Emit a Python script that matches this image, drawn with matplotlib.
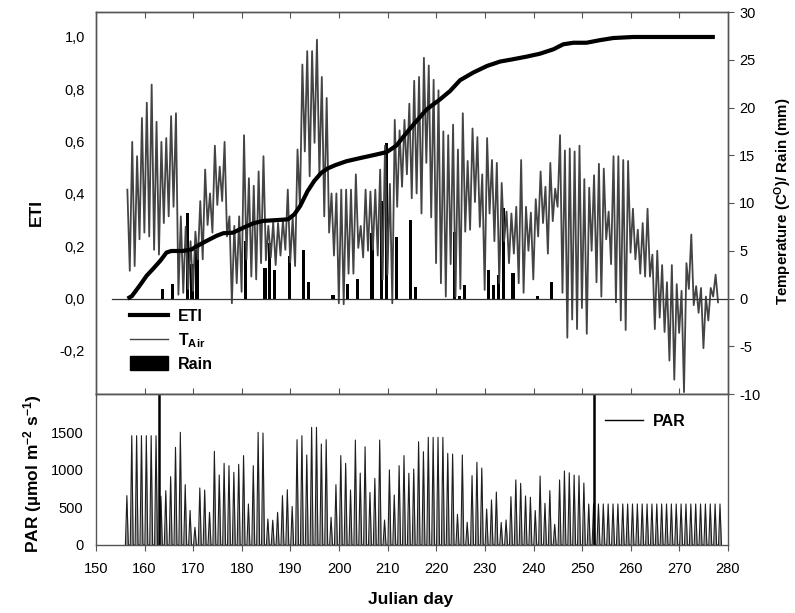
import numpy as np
import matplotlib
matplotlib.use('Agg')
import matplotlib.pyplot as plt
from matplotlib.lines import Line2D
from matplotlib.patches import Patch
from matplotlib.ticker import FuncFormatter, FixedLocator

plt.rcParams['font.family'] = ['Liberation Sans', 'DejaVu Sans']
plt.rcParams['mathtext.fontset'] = 'custom'
plt.rcParams['mathtext.rm'] = 'Liberation Sans:bold'
plt.rcParams['mathtext.it'] = 'Liberation Sans:bold'
plt.rcParams['mathtext.bf'] = 'Liberation Sans:bold'
plt.rcParams['mathtext.default'] = 'rm'
plt.rcParams['axes.unicode_minus'] = False

# ---------------- data ----------------
# Air temperature: daily maximum and following minimum (deg C), days 156..277
t_days = np.arange(156, 278)
t_max = [11.4, 16.4, 14.9, 18.9, 20.5, 22.4, 18.5, 16.4, 16.8, 19.1,
         19.4, 8.6, 7.5, 6.0, 7.0, 10.2, 13.5, 11.0, 16.0, 13.8,
         16.4, 8.6, 7.6, 8.6, 17.1, 12.6, 11.8, 13.3, 14.9, 7.6,
         8.0, 7.9, 8.2, 11.4, 8.5, 15.6, 24.5, 25.9, 25.9, 27.1,
         23.2, 21.0, 11.0, 11.0, 11.4, 11.4, 11.4, 13.0, 7.6, 11.4,
         11.2, 11.4, 13.5, 16.0, 12.0, 18.7, 17.6, 18.7, 20.4, 22.8,
         23.2, 25.2, 24.4, 22.9, 21.8, 17.5, 17.1, 18.2, 15.6, 19.4,
         14.4, 17.8, 16.9, 13.0, 16.8, 14.5, 14.2, 12.1, 9.1, 8.9,
         9.6, 14.5, 9.6, 9.0, 10.4, 13.3, 11.7, 14.2, 11.5, 17.1,
         15.5, 15.7, 15.4, 16.0, 12.5, 11.6, 12.9, 14.1, 13.6, 9.1,
         14.9, 14.9, 14.5, 14.4, 9.4, 7.2, 7.9, 9.4, 4.6, 5.0,
         3.5, 1.7, 3.5, 1.5, 0.8, 3.7, 6.7, 1.3, 1.1, 0.2,
         1.1, 2.5]
t_min = [2.9, 3.4, 6.2, 6.9, 6.5, 5.1, 4.6, 7.9, 8.6, 9.6,
         0.4, 0.6, 1.0, 0.8, 4.1, 4.1, 7.7, 6.9, 9.8, 10.2,
         6.5, -0.5, 1.6, 0.7, 4.1, 2.3, 2.0, 3.7, 4.0, 4.3,
         3.5, 4.5, 5.1, 3.8, 3.4, 9.6, 15.4, 12.8, 16.3, 12.8,
         8.6, 6.9, 4.5, -0.5, -0.6, 2.6, 2.6, 5.3, 4.3, 5.0,
         5.1, 4.5, 2.0, 2.5, -0.5, 9.6, 11.7, 13.0, 10.5, 11.0,
         8.9, 14.2, 8.5, 3.7, 1.6, 0.2, 3.6, 0.2, 1.0, 7.0,
         7.2, 10.1, 7.5, 0.9, 8.9, 6.0, 1.6, 6.0, 3.7, 4.7,
         1.6, 0.6, 5.0, 2.0, 6.5, 7.9, 4.7, 8.1, 9.6, 0.6,
         -4.1, -2.2, -3.2, -1.0, -3.7, 5.0, 1.7, 0.2, 6.2, 3.6,
         -0.4, -2.3, -3.3, 4.8, 4.1, 2.6, 2.3, 2.3, -3.2, -2.0,
         -3.5, -6.5, -8.5, -3.6, -9.8, 1.0, -0.7, -1.5, -5.2, -2.3,
         0.2, -0.4]

# Rain (mm)
rain_days = [164, 166, 169, 170, 171, 181, 185, 186, 187, 190, 193, 194, 199,
             202, 204, 207, 209, 210, 212, 215, 216, 224, 225, 226, 231, 232,
             233, 234, 236, 241, 244]
rain_mm = [1.0, 1.5, 9.0, 3.6, 5.1, 6.0, 3.2, 5.8, 3.0, 4.4, 5.1, 1.7, 0.4,
           1.5, 2.0, 6.9, 10.2, 16.3, 6.4, 8.2, 1.2, 7.0, 0.3, 1.4, 3.0, 1.4,
           2.5, 9.5, 2.7, 0.3, 1.7]

# ETI (cumulative index)
eti_day = [156.5, 157.4, 159.0, 160.4, 161.8, 163.2, 164.5, 165.5, 167.8, 169.7,
           170.7, 172.7, 174.8, 176.2, 178.2, 180.3, 182.4, 184.4, 187.1, 189.5,
           190.8, 192.0, 193.5, 194.9, 196.3, 197.6, 199.2, 201.5, 204.3, 207.0,
           209.8, 211.8, 213.5, 215.3, 218.0, 220.8, 222.8, 224.9, 227.6, 230.4,
           233.1, 235.8, 238.6, 241.3, 244.1, 246.1, 248.2, 250.9, 253.7, 256.4,
           260.5, 277.3]
eti_val = [0.0, 0.01, 0.05, 0.087, 0.115, 0.144, 0.176, 0.182, 0.182, 0.188,
           0.20, 0.22, 0.24, 0.25, 0.252, 0.271, 0.288, 0.297, 0.30, 0.303,
           0.322, 0.354, 0.41, 0.45, 0.48, 0.497, 0.51, 0.525, 0.537, 0.548,
           0.56, 0.585, 0.625, 0.665, 0.723, 0.762, 0.793, 0.835, 0.864, 0.889,
           0.906, 0.915, 0.925, 0.936, 0.953, 0.972, 0.978, 0.978, 0.988, 0.996,
           1.0, 1.0]

# PAR daily peak (umol m-2 s-1), days 156..278
par_days = np.arange(156, 279)
par_peak = [657, 1455, 1455, 1455, 1455, 1455, 1455, 650, 723, 909,
            1300, 1500, 803, 460, 236, 759, 732, 435, 1247, 932,
            1087, 1056, 968, 1074, 1190, 546, 1056, 1500, 1490, 346,
            330, 435, 657, 736, 513, 1402, 1455, 1198, 1566, 1566,
            1345, 1402, 368, 803, 1190, 1087, 732, 1397, 957, 1308,
            700, 887, 1397, 332, 1000, 665, 1056, 1190, 955, 1012,
            1375, 1242, 1433, 1433, 1433, 1433, 1220, 1210, 408, 1198,
            302, 923, 1101, 1025, 479, 600, 705, 300, 333, 643,
            866, 821, 653, 636, 459, 918, 555, 723, 275, 866,
            985, 961, 931, 922, 825, 546, 546, 546, 546, 546,
            546, 546, 546, 546, 546, 546, 546, 546, 546, 546,
            546, 546, 546, 546, 546, 546, 546, 546, 546, 546,
            546, 546, 546]
# off-scale PAR spikes
spike_days = [163.0, 252.35]
spike_par = [2600, 2600]

# ---------------- build series ----------------
t_time = np.ravel(np.column_stack([t_days + 0.45, t_days + 0.95]))
t_val = np.ravel(np.column_stack([t_max, t_min]))

p_time = np.ravel(np.column_stack([par_days + 0.05, par_days + 0.35, par_days + 0.65]))
p_val = np.ravel(np.column_stack([np.zeros(len(par_peak)), par_peak, np.zeros(len(par_peak))]))

# ---------------- figure ----------------
fig = plt.figure(figsize=(7.95, 6.13), dpi=100)
ax1 = fig.add_axes([96/795, 1-394/613, 632/795, 382/613])
ax2 = ax1.twinx()
ax3 = fig.add_axes([96/795, 1-545/613, 632/795, 151/613])

frame_c = '#555555'
tick_fs = 10.5
lab_fs = 12.5

# top panel
ax1.set_xlim(150, 280)
ax1.set_ylim(-0.3647, 1.0955)
ax2.set_ylim(-10, 30)
ax1.set_zorder(ax2.get_zorder() + 1)
ax1.patch.set_visible(False)

ax2.bar(np.array(rain_days) - 0.25, rain_mm, width=0.68, color='black', zorder=2)
ax2.plot(t_time, t_val, color='#444444', lw=1.3, zorder=3)
ax1.axhline(0, xmin=(153.3-150)/130, xmax=1, color='#333333', lw=0.9, zorder=1)
ax1.plot(eti_day, eti_val, color='black', lw=3.0, solid_capstyle='butt', zorder=4)

ax1.yaxis.set_major_locator(FixedLocator([-0.2, 0, 0.2, 0.4, 0.6, 0.8, 1.0]))
ax1.yaxis.set_major_formatter(FuncFormatter(lambda v, p: f'{v:.1f}'.replace('.', ',')))
ax1.tick_params(axis='y', length=0, pad=8, labelsize=tick_fs)
ax1.xaxis.set_major_locator(FixedLocator(np.arange(160, 280, 10)))
ax1.tick_params(axis='x', direction='in', top=True, bottom=True, labelbottom=False,
                length=4, color=frame_c)
ax2.yaxis.set_major_locator(FixedLocator(np.arange(-10, 31, 5)))
ax2.tick_params(axis='y', direction='out', length=4, pad=4, labelsize=tick_fs, color=frame_c)

for a in (ax1, ax2, ax3):
    for s in a.spines.values():
        s.set_color(frame_c)
        s.set_linewidth(1.0)

ax1.set_ylabel('ETI', fontsize=lab_fs, fontweight='bold')
ax1.yaxis.set_label_coords(-0.083, 0.476)
ax2.set_ylabel('Temperature (C$^{O}$)/ Rain (mm)', fontsize=10.8, fontweight='bold')
ax2.yaxis.set_label_coords(1.071, 0.505)

handles = [Line2D([], [], color='black', lw=3.0),
           Line2D([], [], color='#444444', lw=1.0),
           Patch(facecolor='black', edgecolor='black')]
labels = ['ETI', 'T$_{Air}$', 'Rain']
ax1.legend(handles, labels, loc='upper left', bbox_to_anchor=(0.054, 0.222),
           borderpad=0, borderaxespad=0,
           frameon=False, prop={'weight': 'bold', 'size': 11.5},
           handlelength=2.4, handleheight=0.9, labelspacing=0.42, handletextpad=0.6)

# bottom panel
ax3.fill_between(p_time, 0, p_val, color='#9a9a9a', lw=0)
ax3.plot(p_time, p_val, color='#1e1e1e', lw=0.8)
ax3.vlines(spike_days, 0, spike_par, color='black', lw=1.8)
ax3.set_xlim(150, 280)
ax3.set_ylim(0, 2010)
ax3.yaxis.set_major_locator(FixedLocator([0, 500, 1000, 1500]))
ax3.xaxis.set_major_locator(FixedLocator(np.arange(150, 281, 10)))
ax3.tick_params(axis='y', length=0, pad=9, labelsize=tick_fs)
ax3.tick_params(axis='x', direction='out', length=4, pad=8, labelsize=tick_fs, color=frame_c)
ax3.set_ylabel('PAR (µmol m$^{-2}$ s$^{-1}$)', fontsize=lab_fs, fontweight='bold')
ax3.yaxis.set_label_coords(-0.082, 0.47)
ax3.set_xlabel('Julian day', fontsize=lab_fs, fontweight='bold')
ax3.xaxis.set_label_coords(0.498, -0.31)
ax3.legend([Line2D([], [], color='black', lw=1.0)], ['PAR'], loc='upper left',
           bbox_to_anchor=(0.805, 0.87), frameon=False, borderpad=0, borderaxespad=0,
           prop={'weight': 'bold', 'size': 11.5}, handlelength=2.4, handletextpad=0.6)

fig.savefig('out.png', dpi=100)
